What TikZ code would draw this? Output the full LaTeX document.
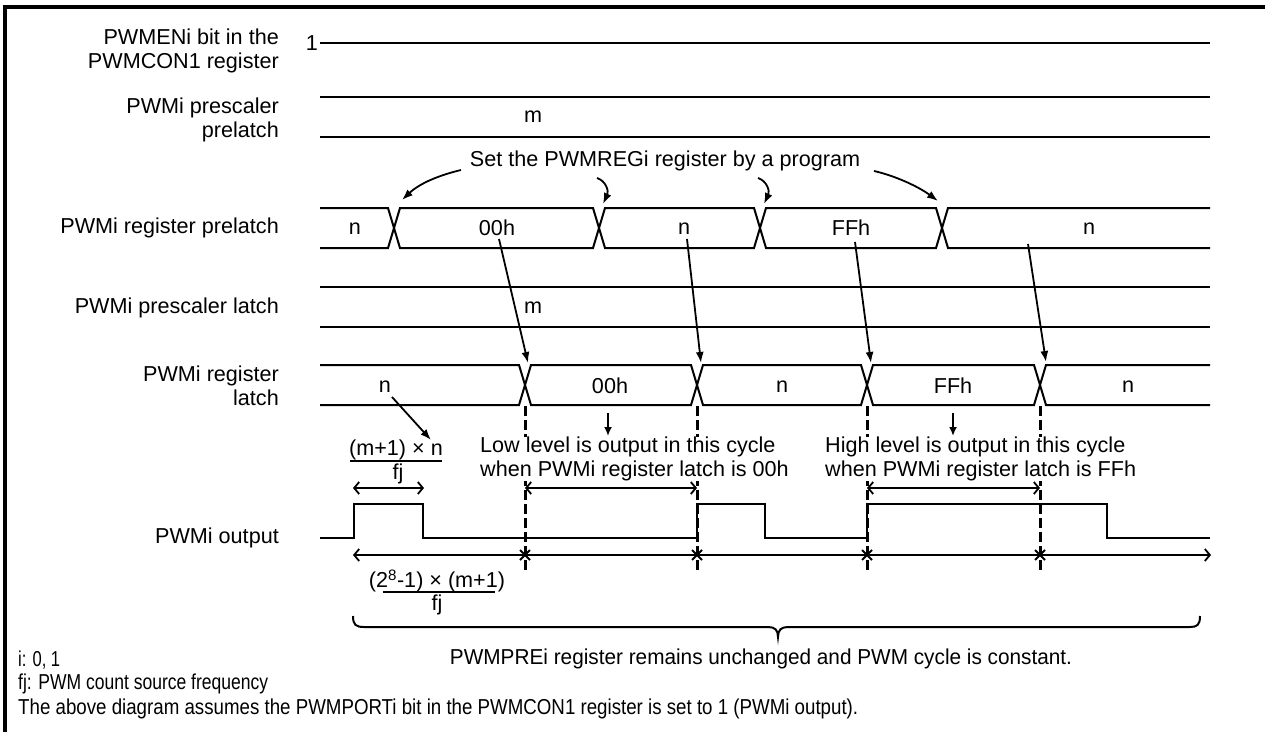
\documentclass[tikz,border=0pt]{standalone}
\usepackage{fontspec}
\setmainfont{Liberation Sans}
\usetikzlibrary{arrows.meta}
\begin{document}
\begin{tikzpicture}[x=1pt,y=-1pt,line join=miter,
  every node/.style={inner sep=0pt,font=\fontsize{21.6}{24.5}\selectfont},
  sig/.style={line width=2pt},
  ar/.style={line width=1.8pt,-{Latex[length=11pt,width=8pt]}},
  sar/.style={line width=1.8pt,-{Latex[length=9pt,width=8pt]}},
  dim/.style={line width=1.8pt,{Straight Barb[length=5pt,width=12pt]}-{Straight Barb[length=5pt,width=12pt]}},
  cyc/.style={line width=3pt,dash pattern=on 10pt off 4pt},
  xmark/.style={line width=2pt}]
\useasboundingbox (0,0) rectangle (1265,731);
% frame
\draw[line width=3.6pt] (5,735) -- (5,7) -- (1270,7);

% signal labels
\node[anchor=east,align=right] (lEN) at (279,51) {PWMENi bit in the\\PWMCON1 register};
\node[anchor=east,align=right] (lPP) at (279,120) {PWMi prescaler\\prelatch};
\node[anchor=east] (lRP) at (279,228) {PWMi register prelatch};
\node[anchor=east] (lPL) at (279,308) {PWMi prescaler latch};
\node[anchor=east,align=right] (lRL) at (279,386) {PWMi register\\latch};
\node[anchor=east] (lOUT) at (279,538) {PWMi output};

% PWMENi
\node (one) at (312,43) {1};
\draw[sig] (320,43) -- (1210,43);
% prescaler prelatch
\draw[sig] (320,97) -- (1210,97);
\draw[sig] (320,137) -- (1210,137);
\node (mpre) at (533,117) {m};
% register prelatch bus
\draw[sig] (320,208) -- (388,208) -- (400,248) -- (593,248) -- (605,208) -- (754,208) -- (766,248) -- (936,248) -- (948,208) -- (1210,208);
\draw[sig] (320,248) -- (388,248) -- (400,208) -- (593,208) -- (605,248) -- (754,248) -- (766,208) -- (936,208) -- (948,248) -- (1210,248);
\node (pn1) at (355,229) {n};
\node (p00) at (497,228) {00h};
\node (pn2) at (684,229) {n};
\node (pFF) at (851,228) {FFh};
\node (pn3) at (1089,229) {n};
% prescaler latch
\draw[sig] (320,287) -- (1210,287);
\draw[sig] (320,327) -- (1210,327);
\node (mlat) at (533,308) {m};
% register latch bus
\draw[sig] (320,365) -- (519,365) -- (531,405) -- (691,405) -- (703,365) -- (861,365) -- (873,405) -- (1034,405) -- (1046,365) -- (1210,365);
\draw[sig] (320,405) -- (519,405) -- (531,365) -- (691,365) -- (703,405) -- (861,405) -- (873,365) -- (1034,365) -- (1046,405) -- (1210,405);
\node (ln1) at (385,387) {n};
\node (l00) at (610,386) {00h};
\node (ln2) at (782,387) {n};
\node (lFF) at (953,386) {FFh};
\node (ln3) at (1128,387) {n};

% "Set the PWMREGi" annotation
\node (set) at (665,161) {Set the PWMREGi register by a program};
\coordinate (s1) at (461,170);
\coordinate (t1) at (402,200);
\coordinate (s2) at (597,178);
\coordinate (t2) at (603,204);
\coordinate (s3) at (758,178);
\coordinate (t3) at (764,204);
\coordinate (s4) at (874,171);
\coordinate (t4) at (938,201);
\draw[ar] (s1) .. controls (440,175) and (420,183) .. (t1);
\draw[ar] (s2) .. controls (606,181) and (609,191) .. (t2);
\draw[ar] (s3) .. controls (767,181) and (770,191) .. (t3);
\draw[ar] (s4) .. controls (896,176) and (919,187) .. (t4);

% prelatch -> latch arrows
\coordinate (a1) at (499,239);  \coordinate (b1) at (528,363);
\coordinate (a2) at (687,239);  \coordinate (b2) at (701,363);
\coordinate (a3) at (855,242);  \coordinate (b3) at (871,363);
\coordinate (a4) at (1028,244); \coordinate (b4) at (1046,362);
\draw[ar] (a1) -- (b1);
\draw[ar] (a2) -- (b2);
\draw[ar] (a3) -- (b3);
\draw[ar] (a4) -- (b4);

% n -> formula
\node (f1num) at (396,450) {(m+1) × n};
\node (f1den) at (398,474) {fj};
\draw[line width=1.5pt] (350,461) -- (442,461);
\coordinate (nA) at (392,397);
\coordinate (nB) at (431,440);
\draw[ar] (nA) -- (nB);
\draw[dim] (353,488) -- (424,488);

% output waveform
\draw[sig] (320,538) -- (354,538) -- (354,504) -- (423,504) -- (423,538) -- (697,538) -- (697,504) -- (765,504) -- (765,538) -- (867,538) -- (867,504) -- (1107,504) -- (1107,538) -- (1210,538);

% cycle marker dashed lines
\foreach \x/\nm in {525/c1,697/c2,867/c3,1040/c4}{
  \coordinate (\nm) at (\x,555);
  \draw[cyc] (\x,406) -- (\x,573);
  \draw[xmark] ([shift={(-5,-5)}]\nm) -- ([shift={(5,5)}]\nm);
  \draw[xmark] ([shift={(-5,5)}]\nm) -- ([shift={(5,-5)}]\nm);
}
% small down arrows
\draw[sar] (608,413) -- (608,436);
\draw[sar] (953,413) -- (953,436);
% cycle texts
\node[anchor=west,align=left,fill=white] (low) at (480,459) {Low level is output in this cycle\\when PWMi register latch is 00h};
\node[anchor=west,align=left,fill=white] (high) at (825,459) {High level is output in this cycle\\when PWMi register latch is FFh};
\draw[dim] (525,488) -- (697,488);
\draw[dim] (867,488) -- (1040,488);

% time axis
\draw[dim] (353,555) -- (1211,555);
\node (f2num) at (437,581) {(2\textsuperscript{8}-1) × (m+1)};
\node (f2den) at (437,605) {fj};
\draw[line width=1.5pt] (383,592) -- (495,592);

% brace
\draw[line width=2pt] (353,616) .. controls (353,625) and (356,627) .. (364,627) -- (768,627) .. controls (775,627) and (778,630) .. (778,637) .. controls (778,630) and (781,627) .. (788,627) -- (1190,627) .. controls (1197,627) and (1200,625) .. (1200,616);

% bottom texts (condensed)
\node (brace) at (761,659) {\resizebox{622pt}{\height}{PWMPREi register remains unchanged and PWM cycle is constant.}};
\node[anchor=west] (ni) at (18,660) {\resizebox{42pt}{\height}{i: 0, 1}};
\node[anchor=west] (nfj) at (18,684) {\resizebox{250pt}{\height}{fj: PWM count source frequency}};
\node[anchor=west] (nnote) at (18,709) {\resizebox{840pt}{\height}{The above diagram assumes the PWMPORTi bit in the PWMCON1 register is set to 1 (PWMi output).}};
\end{tikzpicture}
\end{document}
